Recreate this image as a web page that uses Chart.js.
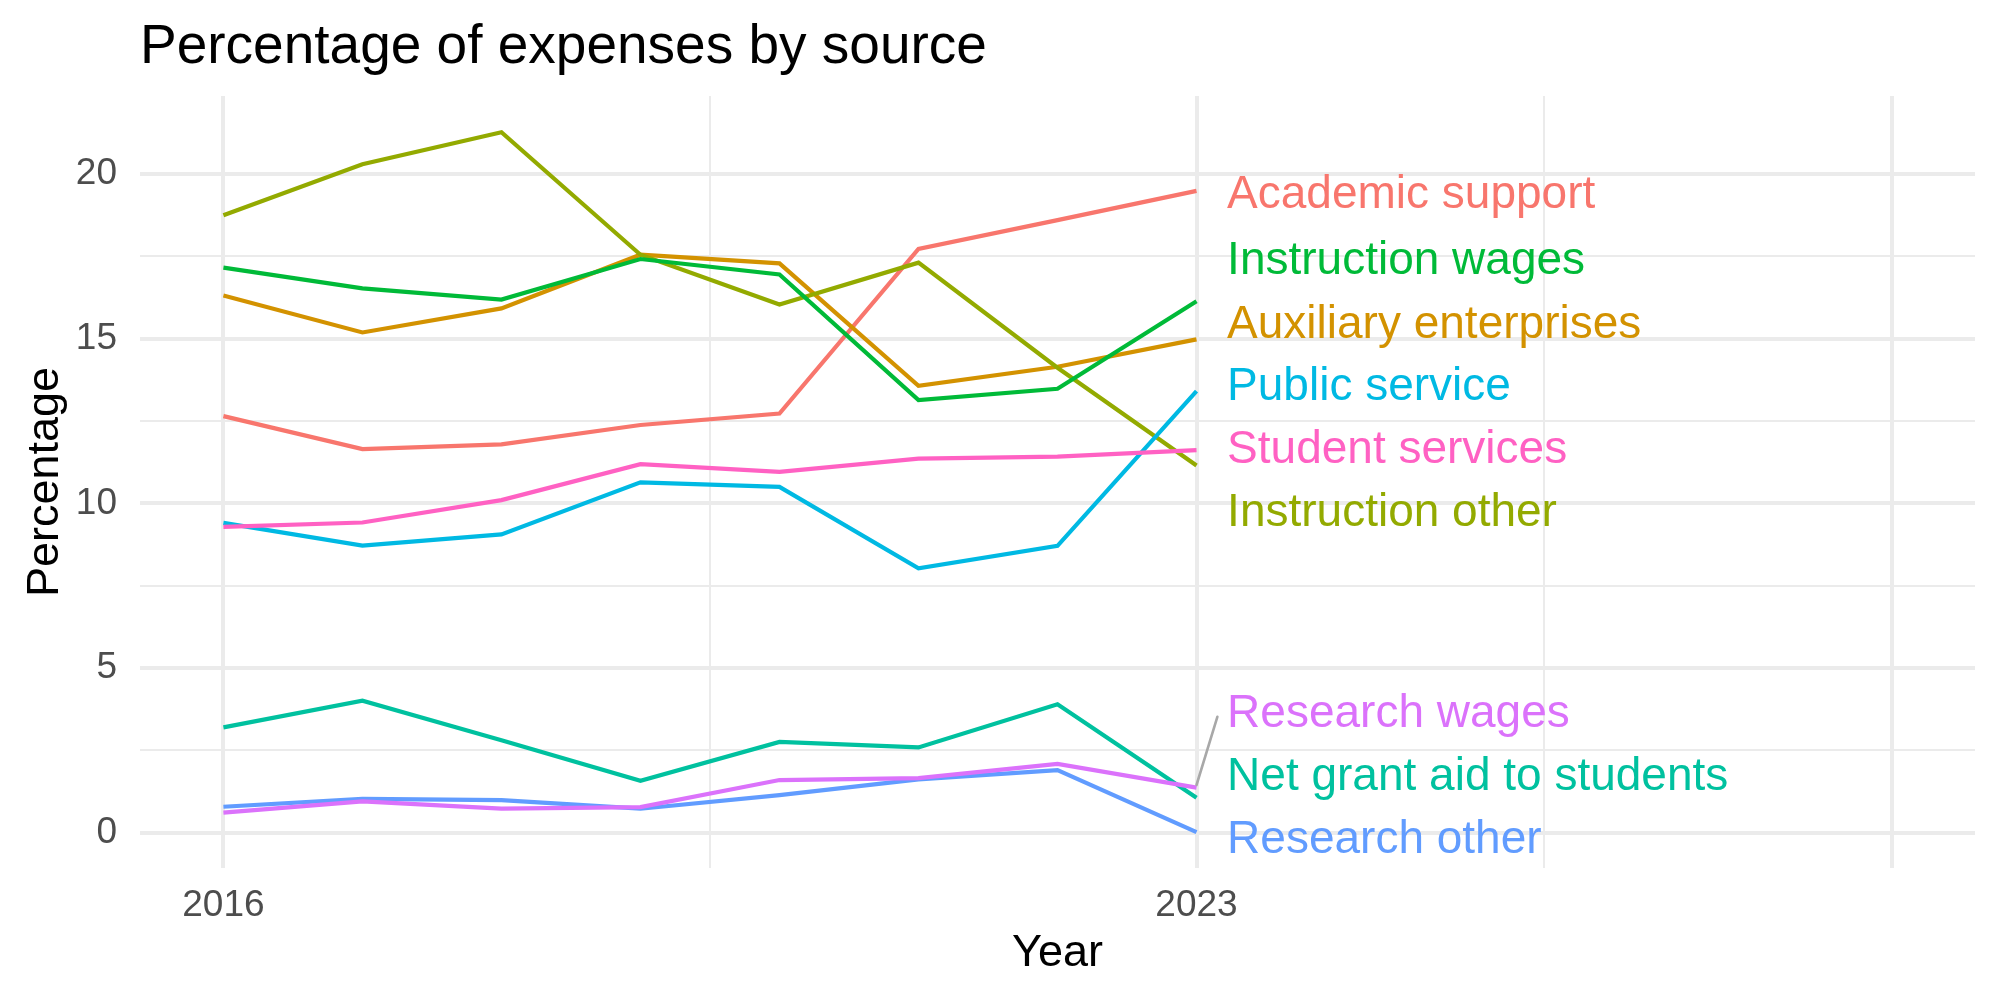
<!DOCTYPE html>
<html>
<head>
<meta charset="utf-8">
<title>Percentage of expenses by source</title>
<script src="https://cdn.jsdelivr.net/npm/chart.js@4.4.0/dist/chart.umd.min.js"></script>
<style>
  html, body { margin: 0; padding: 0; background: #ffffff; }
  canvas { display: block; }
</style>
</head>
<body>
<canvas id="chart" width="2000" height="1000"></canvas>
<script>
// data
const years = [2016, 2017, 2018, 2019, 2020, 2021, 2022, 2023];

const sources = [
  "Academic support",
  "Auxiliary enterprises",
  "Instruction other",
  "Instruction wages",
  "Net grant aid to students",
  "Public service",
  "Research other",
  "Research wages",
  "Student services",
];

const academicSupport = [12.65, 11.65, 11.79, 12.38, 12.73, 17.73, 18.6, 19.49];
const auxiliaryEnterprises = [16.31, 15.19, 15.92, 17.55, 17.29, 13.57, 14.15, 14.98];
const instructionOther = [18.75, 20.3, 21.27, 17.55, 16.04, 17.31, 14.12, 11.15];
const instructionWages = [17.16, 16.53, 16.19, 17.42, 16.95, 13.14, 13.48, 16.14];
const netGrantAid = [3.2, 4.01, 2.81, 1.58, 2.76, 2.59, 3.9, 1.06];
const publicService = [9.41, 8.72, 9.06, 10.64, 10.5, 8.03, 8.71, 13.41];
const researchOther = [0.79, 1.03, 0.99, 0.73, 1.14, 1.62, 1.9, 0.02];
const researchWages = [0.61, 0.95, 0.73, 0.78, 1.6, 1.66, 2.09, 1.37];
const studentServices = [9.29, 9.42, 10.1, 11.19, 10.96, 11.36, 11.42, 11.62];

const seriesValues = [
  academicSupport,
  auxiliaryEnterprises,
  instructionOther,
  instructionWages,
  netGrantAid,
  publicService,
  researchOther,
  researchWages,
  studentServices,
];

// axis breaks (majors + minors) and their labels
const xTicks = [2016, 2019.5, 2023, 2025.5, 2028];
const xTickLabels = ["2016", "", "2023", "", ""];
const yTicks = [0, 2.5, 5, 7.5, 10, 12.5, 15, 17.5, 20];
const yTickLabels = ["0", "", "5", "", "10", "", "15", "", "20"];

// ggplot hue palette, same order as sources
const colors = [
  "#F8766D", "#D39200", "#93AA00", "#00BA38", "#00C19F",
  "#00B9E3", "#619CFF", "#DB72FB", "#FF61C3",
];

// where the repelled labels ended up (year, value)
const labelX = 2023.22;
const labelY = [19.36, 15.4, 9.69, 17.34, 1.68, 13.53, -0.22, 3.6, 11.61];

const FONT = '"Liberation Sans", Arial, Helvetica, sans-serif';
Chart.defaults.font.family = FONT;

const isMajor = (v) => Number.isInteger(v) && (v % 5 === 0 || v > 2000);

const datasets = sources.map((name, i) => ({
  label: name,
  data: years.map((year, j) => ({ x: year, y: seriesValues[i][j] })),
  borderColor: colors[i],
  backgroundColor: colors[i],
  borderWidth: 4.2,
  pointRadius: 0,
  tension: 0,
  fill: false,
  order: sources.length - i, // later groups on top, like ggplot
}));

const textPlugin = {
  id: "textPlugin",
  afterDatasetsDraw(chart) {
    const { ctx, scales } = chart;
    const x = scales.x;
    const y = scales.y;
    ctx.save();

    // repel segment for "Research wages"
    ctx.strokeStyle = "#A8A8A8";
    ctx.lineWidth = 2.6;
    ctx.lineCap = "round";
    ctx.beginPath();
    ctx.moveTo(x.getPixelForValue(2023.0), y.getPixelForValue(1.45));
    ctx.lineTo(x.getPixelForValue(2023.15), y.getPixelForValue(3.52));
    ctx.stroke();

    // series labels
    ctx.font = "46px " + FONT;
    ctx.textAlign = "left";
    ctx.textBaseline = "middle";
    sources.forEach((name, i) => {
      ctx.fillStyle = colors[i];
      ctx.fillText(name, x.getPixelForValue(labelX), y.getPixelForValue(labelY[i]));
    });

    // title
    ctx.fillStyle = "#000000";
    ctx.font = "55px " + FONT;
    ctx.textBaseline = "alphabetic";
    ctx.fillText("Percentage of expenses by source", 140, 63);
    ctx.restore();
  },
};

const ctx = document.getElementById("chart").getContext("2d");
new Chart(ctx, {
  type: "line",
  data: { datasets },
  options: {
    responsive: false,
    animation: false,
    devicePixelRatio: 1,
    layout: { padding: { top: 96, right: 25, bottom: 0, left: 0 } },
    plugins: {
      legend: { display: false },
      tooltip: { enabled: false },
      title: { display: false },
    },
    scales: {
      x: {
        type: "linear",
        min: 2015.4,
        max: 2028.6,
        afterBuildTicks: (axis) => {
          axis.ticks = xTicks.map((v) => ({ value: v }));
        },
        afterFit: (axis) => {
          axis.height = 132;
        },
        ticks: {
          autoSkip: false,
          maxRotation: 0,
          padding: 16,
          color: "#4D4D4D",
          font: { size: 37 },
          callback: (value) => xTickLabels[xTicks.indexOf(value)],
        },
        grid: {
          drawTicks: false,
          color: "#EBEBEB",
          lineWidth: (c) => (c.tick && isMajor(c.tick.value) ? 4 : 2),
        },
        border: { display: false },
        title: {
          display: true,
          text: "Year",
          color: "#000000",
          font: { size: 45 },
          padding: { top: 0, bottom: 19 },
        },
      },
      y: {
        type: "linear",
        min: -1.07,
        max: 22.37,
        afterBuildTicks: (axis) => {
          axis.ticks = yTicks.map((v) => ({ value: v }));
        },
        afterFit: (axis) => {
          axis.width = 140;
        },
        ticks: {
          autoSkip: false,
          padding: 23,
          color: "#4D4D4D",
          font: { size: 37 },
          callback: (value) => yTickLabels[yTicks.indexOf(value)],
        },
        grid: {
          drawTicks: false,
          color: "#EBEBEB",
          lineWidth: (c) => (c.tick && isMajor(c.tick.value) ? 4 : 2),
        },
        border: { display: false },
        title: {
          display: true,
          text: "Percentage",
          color: "#000000",
          font: { size: 45 },
          padding: { top: 19, bottom: 0 },
        },
      },
    },
  },
  plugins: [textPlugin],
});
</script>
</body>
</html>
